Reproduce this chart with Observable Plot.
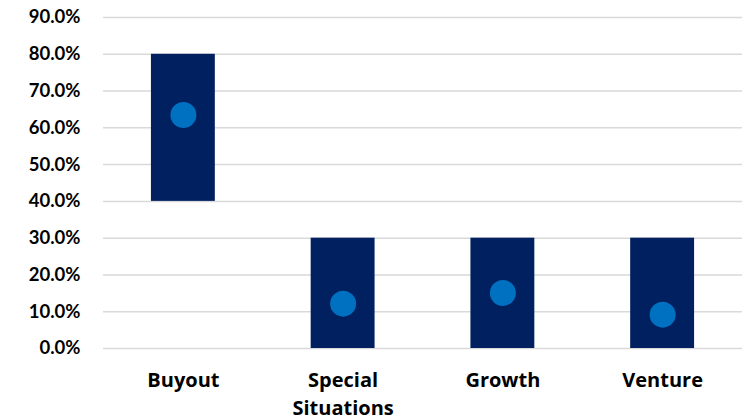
<!DOCTYPE html>
<html>
<head>
<meta charset="utf-8">
<script src="https://cdn.jsdelivr.net/npm/d3@7"></script>
<script src="https://cdn.jsdelivr.net/npm/@observablehq/plot@0.6"></script>
<style>
  html, body { margin: 0; padding: 0; background: #fff; }
  #chart svg { display: block; }
</style>
</head>
<body>
<div id="chart"></div>
<script>
const categories = ["Buyout", "Special Situations", "Growth", "Venture"];
const rangeLow = [40, 0, 0, 0];
const rangeHigh = [80, 30, 30, 30];
const points = [63.5, 12.2, 15.1, 9.2];
const yTicks = [0, 10, 20, 30, 40, 50, 60, 70, 80, 90];
const xLabels = {"Buyout": "Buyout", "Special Situations": "Special\nSituations", "Growth": "Growth", "Venture": "Venture"};

const rows = categories.map((c, i) => ({cat: c, lo: rangeLow[i], hi: rangeHigh[i], v: points[i]}));

const chart = Plot.plot({
  width: 745,
  height: 417,
  marginTop: 17,
  marginBottom: 69,
  marginLeft: 103,
  marginRight: 3,
  style: {fontFamily: "Lato, sans-serif", fontWeight: "bold", fontSize: "18px", color: "#000", background: "#fff"},
  x: {domain: categories, paddingInner: 0.6, paddingOuter: 0.3, round: false, label: null},
  y: {domain: [0, 90], label: null},
  marks: [
    Plot.gridY(yTicks, {stroke: "#d9d9d9", strokeOpacity: 1, strokeWidth: 1.5}),
    Plot.barY(rows, {x: "cat", y1: "lo", y2: "hi", fill: "#002060"}),
    Plot.dot(rows, {x: "cat", y: "v", r: 13, fill: "#0070C0"}),
    Plot.axisY(yTicks, {tickSize: 0, tickPadding: 23, tickFormat: d => d.toFixed(1) + "%", fill: "#000", fontSize: 18.5, fontWeight: "bold"}),
    Plot.axisX({tickSize: 0, tickPadding: 18, tickFormat: d => xLabels[d], lineHeight: 1.43, fill: "#000", fontSize: 20, fontWeight: "bold", fontFamily: "'Open Sans', sans-serif"})
  ]
});
document.getElementById("chart").appendChild(chart);
</script>
</body>
</html>
